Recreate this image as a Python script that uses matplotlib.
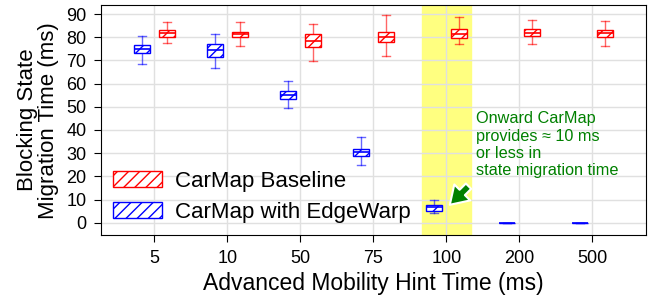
import matplotlib
matplotlib.use("Agg")
import matplotlib.pyplot as plt
from matplotlib.patches import Patch

plt.rcParams['font.family'] = ['Liberation Sans', 'DejaVu Sans']
plt.rcParams['hatch.linewidth'] = 1.0

categories = ['5', '10', '50', '75', '100', '200', '500']

# Baseline (red) box stats
base_lo  = [77.4, 76.1, 69.9, 72.1, 77.1, 76.9, 76.2]
base_q1  = [80.2, 80.0, 75.7, 77.8, 79.8, 80.7, 80.2]
base_med = [81.7, 81.3, 78.5, 80.1, 81.5, 82.0, 81.7]
base_q3  = [83.1, 82.4, 81.3, 82.4, 83.4, 83.4, 83.1]
base_hi  = [86.6, 86.4, 85.6, 89.6, 88.6, 87.3, 86.9]

# EdgeWarp (blue) box stats
ew_lo  = [68.5, 66.8, 49.4, 25.0, 4.2, 0.0, 0.0]
ew_q1  = [73.1, 71.6, 53.4, 28.9, 5.2, 0.0, 0.0]
ew_med = [74.8, 74.5, 55.0, 30.4, 6.6, 0.0, 0.0]
ew_q3  = [76.5, 77.1, 56.7, 32.0, 7.75, 0.0, 0.0]
ew_hi  = [80.5, 81.4, 61.0, 36.9, 9.8, 0.0, 0.0]

fig, ax = plt.subplots(figsize=(6.51, 2.96), dpi=100)
fig.subplots_adjust(left=0.155, right=0.992, top=0.982, bottom=0.206)

ax.axvspan(4 - 0.34, 4 + 0.34, color='#ffff80', zorder=0)

def stats(lo, q1, med, q3, hi):
    return [dict(whislo=a, q1=b, med=c, q3=d, whishi=e, fliers=[])
            for a, b, c, d, e in zip(lo, q1, med, q3, hi)]

off = 0.17
w = 0.22
n = len(categories)

def draw(st, positions, color):
    bp = ax.bxp(st, positions=positions, widths=w, patch_artist=True,
                showfliers=False, manage_ticks=False)
    for b in bp['boxes']:
        b.set_facecolor('white')
        b.set_edgecolor(color)
        b.set_hatch('///')
        b.set_linewidth(1.0)
        b.set_zorder(3)
    for k in ('whiskers', 'caps'):
        for l in bp[k]:
            l.set_color(color)
            l.set_alpha(0.6)
            l.set_linewidth(1.0)
    for l in bp['medians']:
        l.set_color(color)
        l.set_linewidth(1.2)
        l.set_zorder(4)
    return bp

draw(stats(ew_lo, ew_q1, ew_med, ew_q3, ew_hi), [i - off for i in range(n)], 'blue')
draw(stats(base_lo, base_q1, base_med, base_q3, base_hi), [i + off for i in range(n)], 'red')

ax.set_xticks(range(n))
ax.set_xticklabels(categories)
ax.set_xlim(-0.73, n - 1 + 0.73)
ax.set_ylim(-5.3, 93.75)
ax.set_yticks(range(0, 91, 10))
ax.tick_params(labelsize=13, length=5, pad=5.5)
ax.grid(True, color='#e0e0e0', linewidth=1.0, zorder=0)
ax.set_axisbelow(True)
ax.set_xlabel('Advanced Mobility Hint Time (ms)', fontsize=16.5, labelpad=4)
ax.set_ylabel('Blocking State\nMigration Time (ms)', fontsize=16, linespacing=1.0, labelpad=5)

handles = [Patch(facecolor='white', edgecolor='red', hatch='///', label='CarMap Baseline'),
           Patch(facecolor='white', edgecolor='blue', hatch='///', label='CarMap with EdgeWarp')]
ax.legend(handles=handles, loc='lower left', fontsize=16, frameon=False,
          bbox_to_anchor=(0.0, 0.0), handlelength=2.2, handleheight=0.75,
          handletextpad=0.6, borderaxespad=0.15, labelspacing=0.45)

ax.text(4.40, 33.6, 'Onward CarMap\nprovides \u2248 10 ms\nor less in\nstate migration time',
        color='green', fontsize=11.7, va='center', ha='left', linespacing=1.2)
ax.annotate('', xy=(4.02, 6.9), xytext=(4.33, 16.6),
            arrowprops=dict(arrowstyle='simple,head_width=0.9,head_length=0.7,tail_width=0.3',
                            mutation_scale=18,
                            facecolor='green', edgecolor='white', linewidth=1.5))

fig.savefig('out.png', dpi=100)
